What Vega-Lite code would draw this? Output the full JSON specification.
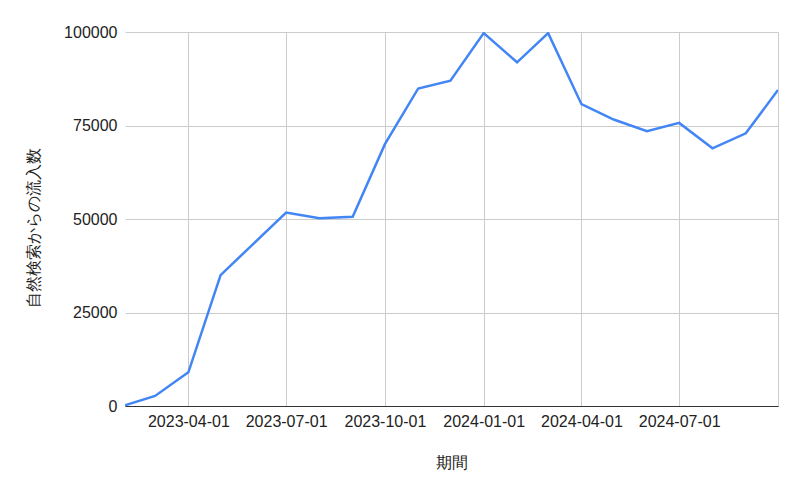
{
  "$schema": "https://vega.github.io/schema/vega-lite/v6.json",
  "width": 653,
  "height": 374,
  "autosize": {"type": "none"},
  "padding": {"left": 125, "top": 32, "right": 22, "bottom": 88},
  "background": "white",
  "config": {
    "view": {"stroke": null},
    "font": "Liberation Sans"
  },
  "data": {
    "values": [
      {"date": "2023-02-01", "value": 200},
      {"date": "2023-03-01", "value": 2700},
      {"date": "2023-04-01", "value": 9000},
      {"date": "2023-05-01", "value": 35000},
      {"date": "2023-06-01", "value": 43500},
      {"date": "2023-07-01", "value": 51700},
      {"date": "2023-08-01", "value": 50200},
      {"date": "2023-09-01", "value": 50600},
      {"date": "2023-10-01", "value": 70000},
      {"date": "2023-11-01", "value": 84900},
      {"date": "2023-12-01", "value": 87000},
      {"date": "2024-01-01", "value": 99700},
      {"date": "2024-02-01", "value": 91900},
      {"date": "2024-03-01", "value": 99700},
      {"date": "2024-04-01", "value": 80700},
      {"date": "2024-05-01", "value": 76600},
      {"date": "2024-06-01", "value": 73500},
      {"date": "2024-07-01", "value": 75700},
      {"date": "2024-08-01", "value": 68900},
      {"date": "2024-09-01", "value": 72900},
      {"date": "2024-10-01", "value": 84500}
    ]
  },
  "mark": {"type": "line", "color": "#4285F4", "strokeWidth": 2.5, "clip": true},
  "encoding": {
    "x": {
      "field": "date",
      "type": "temporal",
      "scale": {"type": "utc", "nice": false},
      "axis": {
        "title": "期間",
        "titleFont": "Liberation Sans",
        "titleFontSize": 16,
        "titleFontWeight": "normal",
        "titleColor": "#222222",
        "titlePadding": 25,
        "values": [
          {"year": 2023, "month": 4, "date": 1, "utc": true},
          {"year": 2023, "month": 7, "date": 1, "utc": true},
          {"year": 2023, "month": 10, "date": 1, "utc": true},
          {"year": 2024, "month": 1, "date": 1, "utc": true},
          {"year": 2024, "month": 4, "date": 1, "utc": true},
          {"year": 2024, "month": 7, "date": 1, "utc": true},
          {"year": 2024, "month": 10, "date": 1, "utc": true}
        ],
        "labelExpr": "datum.value > datetime(2024, 8, 1) ? '' : utcFormat(datum.value, '%Y-%m-%d')",
        "labelFontSize": 16,
        "labelColor": "#222222",
        "labelPadding": 7,
        "labelBound": false,
        "labelFlush": false,
        "labelOverlap": false,
        "ticks": false,
        "domainColor": "#333333",
        "domainWidth": 1,
        "gridColor": "#cccccc",
        "gridWidth": 1
      }
    },
    "y": {
      "field": "value",
      "type": "quantitative",
      "scale": {"domain": [0, 100000], "nice": false, "zero": true},
      "axis": {
        "title": "自然検索からの流入数",
        "titleFont": "Liberation Sans",
        "titleFontSize": 16,
        "titleFontWeight": "normal",
        "titleColor": "#222222",
        "titlePadding": 22,
        "titleY": 195,
        "values": [0, 25000, 50000, 75000, 100000],
        "format": "d",
        "labelFontSize": 16,
        "labelColor": "#222222",
        "labelPadding": 8,
        "ticks": false,
        "domain": false,
        "gridColor": "#cccccc",
        "gridWidth": 1
      }
    }
  }
}
